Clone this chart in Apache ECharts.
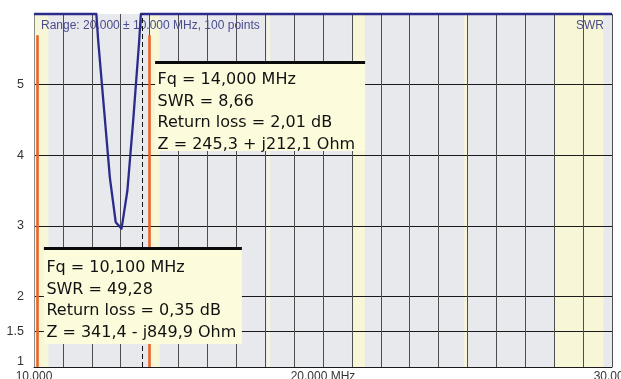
<!DOCTYPE html>
<html>
<head>
<meta charset="utf-8">
<script src="https://cdn.jsdelivr.net/npm/echarts@6/dist/echarts.min.js"></script>
<style>
  html, body { margin: 0; padding: 0; background: #ffffff; }
  #chart { width: 621px; height: 379px; }
</style>
</head>
<body>
<div id="chart"></div>
<script>
// Sweep 10–30 MHz: SWR readings (values above 6 run off the top of the scale)
const freqMHz   = [10.000, 10.100, 11.000, 11.500, 12.020, 12.222, 12.424, 12.626, 12.828, 13.030,
                   13.232, 13.434, 13.636, 13.838, 14.000, 15.000, 17.000, 20.000, 25.000, 30.000];
const swrValues = [52.0, 49.28, 28.0, 14.0, 6.80, 5.62, 4.65, 3.68, 3.05, 2.96,
                   3.50, 4.50, 5.60, 6.90, 8.66, 20.0, 38.0, 55.0, 70.0, 80.0];

// Axis labelling
const swrTickValues   = [1, 1.5, 2, 3, 4, 5];
const swrGridValues   = [1.5, 2, 3, 4, 5];
const freqLabelValues = [10, 20, 30];
const freqLabels      = ['10.000', '20.000 MHz', '30.000'];

// Amateur bands shaded on the sweep (MHz)
const hamBands = [[10.0, 10.5], [14.0, 14.35], [18.068, 18.168], [21.0, 21.45], [24.89, 24.99], [28.0, 29.7]];

// Markers and their readouts
const markerFreqs = [10.100, 14.000];
const markerTexts = [
  ['Fq = 10,100 MHz', 'SWR = 49,28', 'Return loss = 0,35 dB', 'Z = 341,4 - j849,9 Ohm'],
  ['Fq = 14,000 MHz', 'SWR = 8,66', 'Return loss = 2,01 dB', 'Z = 245,3 + j212,1 Ohm']
];
const cursorFreq = 13.76;
const rangeText = 'Range: 20.000 \u00b1 10.000 MHz, 100 points';
const paramName = 'SWR';

const SWR_MIN = 1, SWR_MAX = 6, MARKER_TOP = 5.7;
const axisFont = '"Liberation Sans", Arial, sans-serif';

const chart = echarts.init(document.getElementById('chart'), null, { renderer: 'canvas' });

chart.setOption({
  animation: false,
  grid: {
    left: 34, right: 9, top: 14, bottom: 12,
    outerBoundsMode: 'none', containLabel: false,
    show: true, backgroundColor: '#e8e9ec', borderWidth: 0, z: -3
  },
  xAxis: {
    type: 'value', min: 10, max: 30, interval: 1,
    axisLine: { show: true, onZero: false, lineStyle: { color: '#1a1a1a', width: 1 } },
    axisTick: { show: false },
    axisLabel: {
      customValues: freqLabelValues,
      formatter: v => { const i = freqLabelValues.indexOf(v); return i >= 0 ? freqLabels[i] : ''; },
      margin: 3.5, color: '#333', fontSize: 12, fontFamily: axisFont
    },
    splitLine: { show: true, lineStyle: { color: '#4e4e4e', width: 1 } }
  },
  yAxis: {
    type: 'value', min: SWR_MIN, max: SWR_MAX,
    axisLine: { show: true, lineStyle: { color: '#8c8c8c', width: 1 } },
    axisTick: { show: false, customValues: swrGridValues },
    axisLabel: {
      customValues: swrTickValues,
      formatter: v => v === SWR_MIN ? '{low|' + v + '}' : String(v),
      color: '#333', fontSize: 12.5, fontFamily: axisFont, margin: 10,
      rich: { low: { padding: [0, 0, 10, 0], color: '#333', fontSize: 12.5, fontFamily: axisFont } }
    },
    splitLine: { show: true, lineStyle: { color: '#1a1a1a', width: 1 } }
  },
  series: [
    {
      // band shading
      type: 'line', data: [], silent: true, z: -2,
      markArea: {
        silent: true, z: -2,
        itemStyle: { color: '#f7f7d7' },
        data: hamBands.map(b => [{ xAxis: b[0] }, { xAxis: b[1] }])
      }
    },
    {
      // SWR trace, held on the top edge where it runs off scale
      type: 'custom', z: 5, clip: false, silent: true,
      data: freqMHz.map((f, i) => [f, swrValues[i]]),
      encode: { x: 0, y: 1 },
      renderItem: (params, api) => {
        if (params.dataIndex !== 0) return null;
        const top = params.coordSys.y;
        const pts = freqMHz.map((f, i) => api.coord([f, swrValues[i]]));
        const out = [];
        pts.forEach((p, i) => {
          if (i > 0) {
            const q = pts[i - 1];
            if ((q[1] < top) !== (p[1] < top)) {
              const t = (top - q[1]) / (p[1] - q[1]);
              out.push([q[0] + t * (p[0] - q[0]), top]);
            }
          }
          out.push([p[0], Math.max(p[1], top)]);
        });
        return {
          type: 'polyline',
          shape: { points: out },
          style: { stroke: '#2b2b8c', lineWidth: 2.3, fill: 'none', lineJoin: 'round' }
        };
      }
    },
    {
      // marker and cursor lines
      type: 'line', data: [], silent: true, z: 6,
      markLine: {
        silent: true, z: 6, symbol: ['none', 'none'], label: { show: false },
        animation: false,
        data: [
          ...markerFreqs.map(f => [
            { coord: [f, SWR_MIN], lineStyle: { color: '#ea6426', width: 2.6, type: 'solid' } },
            { coord: [f, MARKER_TOP] }
          ]),
          { xAxis: cursorFreq, lineStyle: { color: '#111', width: 1, type: [5, 3] } }
        ]
      }
    }
  ]
});

// Readout boxes next to each marker, plus header texts
const boxLayouts = [
  { dx: 7,   top: 248, w: 198, h: 96, textY: 9 },
  { dx: 5.5, top: 62,  w: 210, h: 89, textY: 7 }
];
const headerFont = '12px "Liberation Sans", Arial, sans-serif';
const graphics = [
  { type: 'text', z: 4, silent: true, x: 41, y: 25.5,
    style: { text: rangeText, font: headerFont, fill: '#4b4b8e', verticalAlign: 'middle' } },
  { type: 'text', z: 4, silent: true, x: 604, y: 25.5,
    style: { text: paramName, font: headerFont, fill: '#4b4b8e', align: 'right', verticalAlign: 'middle' } }
];
markerFreqs.forEach((f, i) => {
  const px = chart.convertToPixel({ gridIndex: 0 }, [f, SWR_MIN]);
  const L = boxLayouts[i];
  const x0 = px[0] + L.dx;
  graphics.push({
    type: 'group', x: x0, y: L.top, z: 10, silent: true,
    children: [
      { type: 'rect', z: 10, shape: { x: 0, y: 0, width: L.w, height: L.h }, style: { fill: '#fcfcdc' } },
      { type: 'rect', z: 11, shape: { x: 0, y: -1, width: L.w, height: 3 }, style: { fill: '#0a0a0a' } },
      { type: 'text', z: 12, x: 2.5, y: L.textY,
        style: { text: markerTexts[i].join('\n'), font: '16px "DejaVu Sans", sans-serif', fill: '#111',
                 lineHeight: 21.6, verticalAlign: 'top' } }
    ]
  });
});
chart.setOption({ graphic: graphics });
</script>
</body>
</html>
